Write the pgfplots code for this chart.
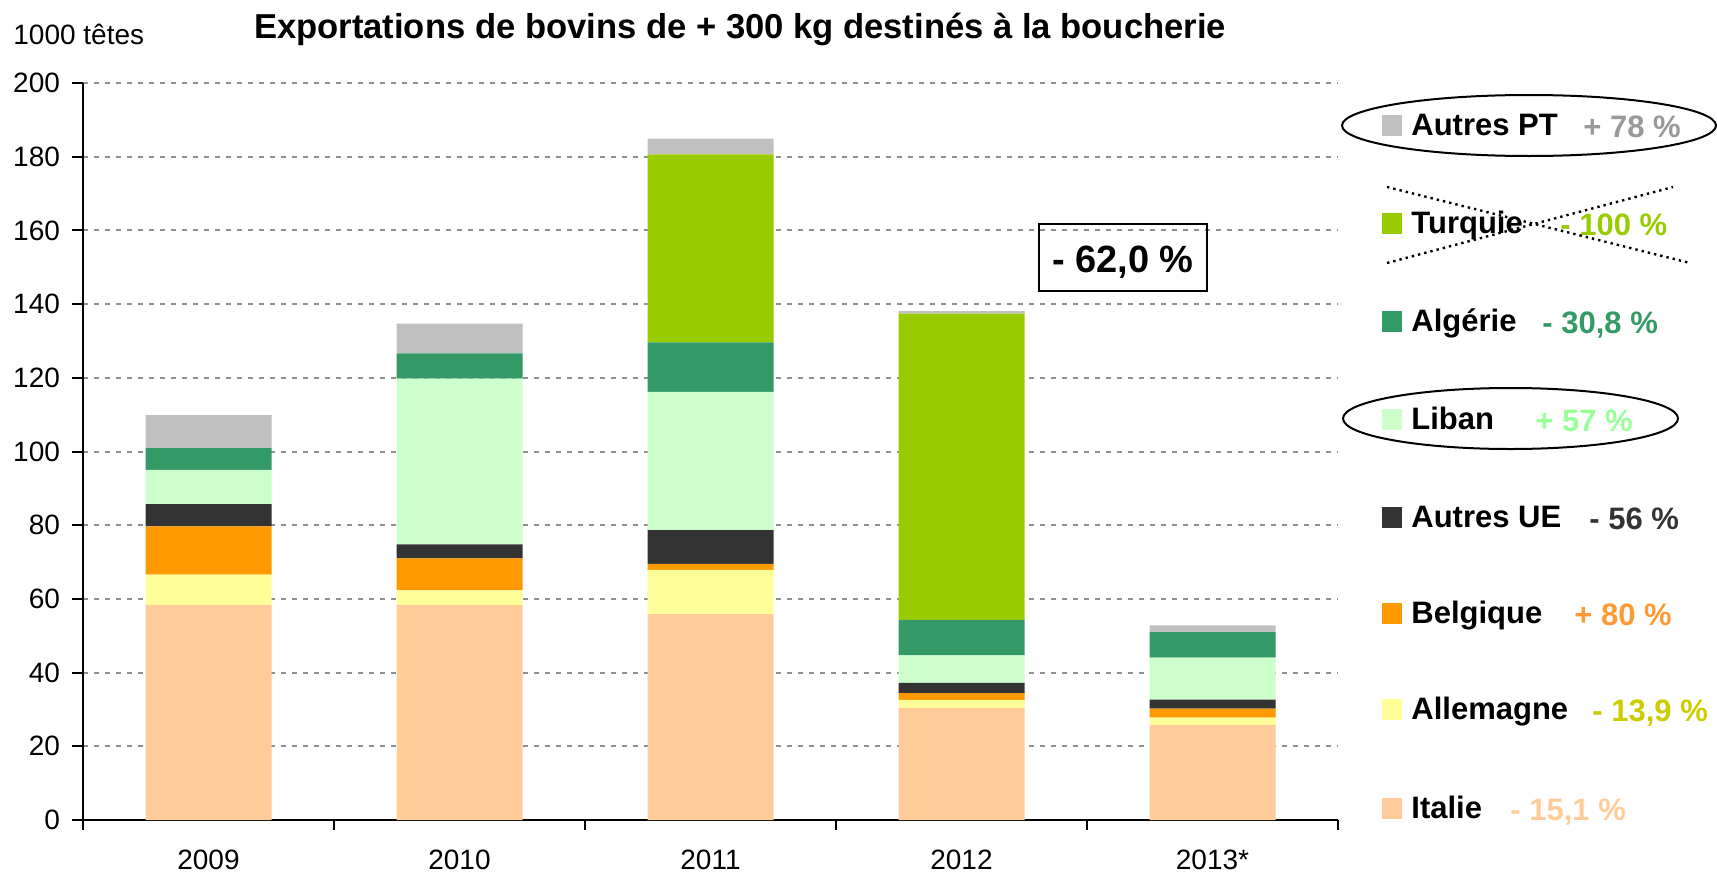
\documentclass[border=0pt]{standalone}
\usepackage{fontspec}
\setmainfont{Liberation Sans}
\usepackage{pgfplots}
\pgfplotsset{compat=1.18}
\usepackage{pgfplotstable}

\definecolor{cItalie}{HTML}{FFCC99}
\definecolor{cAllemagne}{HTML}{FFFF99}
\definecolor{cBelgique}{HTML}{FF9900}
\definecolor{cAutresUE}{HTML}{333333}
\definecolor{cLiban}{HTML}{CCFFCC}
\definecolor{cAlgerie}{HTML}{339966}
\definecolor{cTurquie}{HTML}{99CC00}
\definecolor{cAutresPT}{HTML}{C0C0C0}
\definecolor{gridgray}{HTML}{909090}
% colours of the % changes
\definecolor{pAutresPT}{HTML}{999999}
\definecolor{pLiban}{HTML}{99FF99}
\definecolor{pBelgique}{HTML}{FF9933}
\definecolor{pAllemagne}{HTML}{CCCC00}

% 1000 tetes, bottom to top of each bar
\pgfplotstableread{
idx Italie Allemagne Belgique AutresUE Liban Algerie Turquie AutresPT
0   58.4   8.2       13.1     6.0      9.3   5.9     0.0     9.0
1   58.4   3.9       8.7      3.8      45.0  6.8     0.0     8.1
2   55.9   12.0      1.6      9.2      37.5  13.4    51.0    4.3
3   30.4   2.2       1.8      2.8      7.5   9.6     83.1    0.7
4   25.8   2.0       2.4      2.5      11.4  6.9     0.0     1.8
}\exports

\newcommand{\legfont}{\bfseries\fontsize{15.5}{18}\selectfont}
% name, colour, baseline (px), change, change colour, change x (px)
\newcommand{\legentry}[6]{%
  \fill[#2] (1382,#3+1) rectangle (1402,#3-20);
  \node[anchor=base west, inner sep=0, font=\legfont] at (1411,#3) {#1};
  \node[anchor=base west, inner sep=0, font=\legfont, text=#5] at (#6,#3+2) {#4};
}

\begin{document}
\begin{tikzpicture}
\begin{axis}[
    at={(41.5pt,-410pt)}, anchor=south west,
    scale only axis, width=627.5pt, height=368.5pt,
    ybar stacked, bar width=63pt,
    xmin=-0.5, xmax=4.5, ymin=0, ymax=200,
    xtick={0,...,4}, xticklabels={2009,2010,2011,2012,2013*},
    minor xtick={-0.5,0.5,1.5,2.5,3.5,4.5},
    ytick={0,20,...,200},
    axis x line*=bottom, axis y line*=left,
    axis line style={-, line width=1pt},
    tick align=outside,
    major x tick style={draw=none},
    minor x tick style={black, line width=1pt},
    y tick style={black, line width=1pt},
    minor tick length=5pt, major tick length=5.5pt,
    ymajorgrids,
    grid style={gridgray, line width=1pt, dash pattern=on 2.5pt off 3pt},
    tick label style={font=\fontsize{14}{16}\selectfont},
    /pgf/number format/assume math mode=true,
    xticklabel style={yshift=-6pt},
    yticklabel style={xshift=-2.5pt},
]
\addplot[fill=cItalie, draw=none] table[x=idx, y=Italie] {\exports};
\addplot[fill=cAllemagne, draw=none] table[x=idx, y=Allemagne] {\exports};
\addplot[fill=cBelgique, draw=none] table[x=idx, y=Belgique] {\exports};
\addplot[fill=cAutresUE, draw=none] table[x=idx, y=AutresUE] {\exports};
\addplot[fill=cLiban, draw=none] table[x=idx, y=Liban] {\exports};
\addplot[fill=cAlgerie, draw=none] table[x=idx, y=Algerie] {\exports};
\addplot[fill=cTurquie, draw=none] table[x=idx, y=Turquie] {\exports};
\addplot[fill=cAutresPT, draw=none] table[x=idx, y=AutresPT] {\exports};
\end{axis}

\begin{scope}[x=0.5pt, y=-0.5pt]
  \node[anchor=base, inner sep=0, font=\bfseries\fontsize{17.3}{20}\selectfont] at (740,39)
    {Exportations de bovins de + 300 kg destinés à la boucherie};
  \node[anchor=base west, inner sep=0, font=\fontsize{14}{16}\selectfont] at (13,44) {1000 têtes};

  \draw[line width=0.8pt] (1039,224) rectangle (1207,291);
  \node[anchor=base, inner sep=0, font=\bfseries\fontsize{19}{22}\selectfont] at (1123,272) {- 62,0 \%};

  \legentry{Autres PT}{cAutresPT}{135}{+ 78 \%}{pAutresPT}{1583}
  \legentry{Turquie}{cTurquie}{233}{- 100 \%}{cTurquie}{1560}
  \legentry{Algérie}{cAlgerie}{331}{- 30,8 \%}{cAlgerie}{1542}
  \legentry{Liban}{cLiban}{429}{+ 57 \%}{pLiban}{1535}
  \legentry{Autres UE}{cAutresUE}{527}{- 56 \%}{cAutresUE}{1589}
  \legentry{Belgique}{cBelgique}{623}{+ 80 \%}{pBelgique}{1574}
  \legentry{Allemagne}{cAllemagne}{719}{- 13,9 \%}{pAllemagne}{1592}
  \legentry{Italie}{cItalie}{818}{- 15,1 \%}{cItalie}{1510}

  \draw[line width=1pt] (1529,125.5) ellipse [x radius=93.5pt, y radius=15.25pt];
  \draw[line width=1pt] (1510.5,418.5) ellipse [x radius=83.75pt, y radius=15.25pt];
  \draw[line width=1.2pt, dotted] (1387,187) -- (1690,263);
  \draw[line width=1.2pt, dotted] (1387,263) -- (1673,187);
\end{scope}

\pgfresetboundingbox
\path (0,0) rectangle (858.5pt,-439pt);
\end{tikzpicture}
\end{document}
